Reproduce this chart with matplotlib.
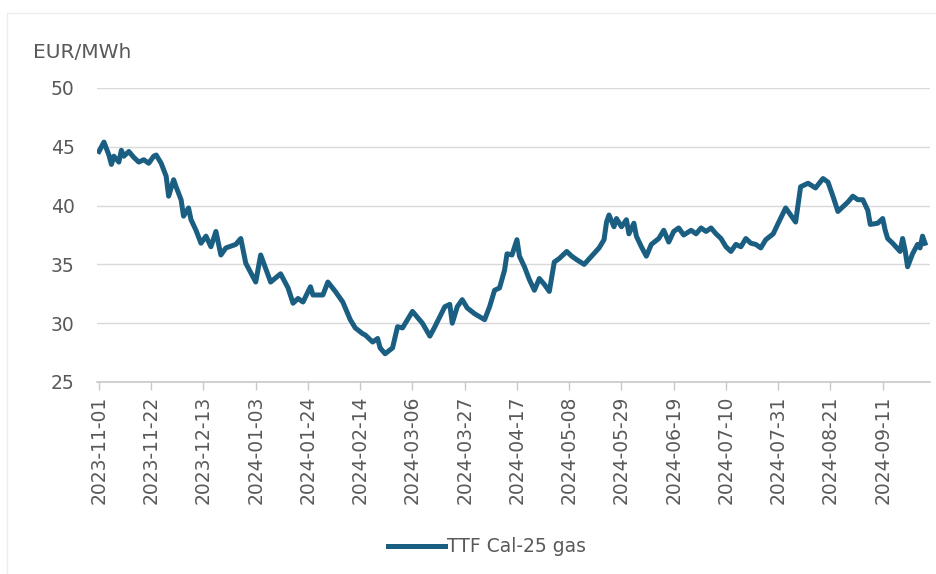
import numpy as np
import pandas as pd
import matplotlib
matplotlib.use("Agg")
import matplotlib.pyplot as plt
import matplotlib.dates as mdates
from matplotlib.patches import Rectangle

# Data: days since 2023-11-01 and price in EUR/MWh
start_date = "2023-11-01"
day_offsets = [
    0, 2, 4, 5, 6, 8, 9, 10, 12, 14, 16, 18, 20, 22, 23, 25, 27, 28, 30, 31,
    33, 34, 36, 37, 39, 41, 43, 45, 47, 49, 51, 55, 57, 59, 63, 65, 69, 73, 76, 78,
    80, 82, 85, 86, 90, 92, 95, 98, 101, 103, 106, 107, 110, 112, 113, 115, 118, 120, 122, 126,
    130, 133, 135, 139, 141, 142, 144, 146, 148, 151, 155, 157, 159, 161, 163, 164, 166, 168, 169, 171,
    173, 175, 177, 179, 181, 183, 185, 188, 190, 192, 195, 198, 201, 203, 204, 205, 207, 208, 210, 212,
    213, 215, 216, 218, 220, 222, 225, 227, 229, 231, 233, 235, 238, 240, 242, 244, 246, 248, 250, 252,
    254, 256, 258, 260, 262, 264, 266, 268, 271, 273, 276, 278, 280, 282, 285, 288, 291, 293, 295, 297,
    299, 301, 303, 305, 307, 309, 310, 313, 315, 316, 317, 319, 322, 323, 324, 325, 327, 329, 330, 331,
    332,
]
ttf_cal25 = [
    44.6, 45.4, 44.3, 43.5, 44.2, 43.7, 44.7, 44.2, 44.6, 44.1, 43.7, 43.9, 43.6, 44.2, 44.3, 43.6, 42.5, 40.8, 42.2, 41.6,
    40.5, 39.1, 39.8, 38.8, 37.9, 36.8, 37.4, 36.5, 37.8, 35.8, 36.4, 36.7, 37.2, 35.1, 33.5, 35.8, 33.5, 34.2, 33.0, 31.7,
    32.1, 31.8, 33.1, 32.4, 32.4, 33.5, 32.7, 31.8, 30.3, 29.6, 29.1, 29.0, 28.4, 28.7, 27.9, 27.4, 27.9, 29.7, 29.6, 31.0,
    30.0, 28.9, 29.7, 31.4, 31.6, 30.0, 31.4, 32.0, 31.3, 30.8, 30.3, 31.4, 32.8, 33.0, 34.5, 35.9, 35.8, 37.1, 35.7, 34.8,
    33.7, 32.8, 33.8, 33.3, 32.7, 35.2, 35.5, 36.1, 35.7, 35.4, 35.0, 35.7, 36.4, 37.1, 38.6, 39.2, 38.2, 38.9, 38.2, 38.8,
    37.6, 38.5, 37.4, 36.5, 35.7, 36.7, 37.2, 37.9, 36.9, 37.8, 38.1, 37.5, 37.9, 37.6, 38.1, 37.8, 38.1, 37.6, 37.2, 36.5,
    36.1, 36.7, 36.5, 37.2, 36.8, 36.7, 36.4, 37.1, 37.6, 38.5, 39.8, 39.2, 38.6, 41.6, 41.9, 41.5, 42.3, 42.0, 40.8, 39.5,
    39.9, 40.3, 40.8, 40.5, 40.5, 39.6, 38.4, 38.5, 38.9, 37.9, 37.2, 36.8, 36.1, 37.2, 36.2, 34.8, 35.9, 36.7, 36.4, 37.4,
    36.8,
]
series_name = "TTF Cal-25 gas"
unit_label = "EUR/MWh"
y_ticks = [25, 30, 35, 40, 45, 50]

dates = pd.to_datetime(start_date) + pd.to_timedelta(day_offsets, unit="D")
tick_dates = pd.date_range(start_date, "2024-09-30", freq="21D")

line_color = "#1a5e82"
text_color = "#595959"
fs = 13.5

fig = plt.figure(figsize=(9.37, 5.74), dpi=100)
ax = fig.add_axes([0.1035, 0.3345, 0.889, 0.5122])

# faint frame of the original screenshot
fig.patches.append(Rectangle((7 / 937, -0.1), 1.2, 1 - 13 / 574 + 0.1, transform=fig.transFigure,
                             fill=False, edgecolor="#ececec", linewidth=1.0))

ax.plot(dates, ttf_cal25, color=line_color, linewidth=3.6, solid_joinstyle="round",
        label=series_name)

ax.set_ylim(25, 50)
ax.set_yticks(y_ticks)
ax.set_xlim(pd.to_datetime(start_date) - pd.Timedelta(days=0.8), pd.to_datetime("2024-09-30"))
ax.set_xticks(tick_dates)
ax.xaxis.set_major_formatter(mdates.DateFormatter("%Y-%m-%d"))

ax.grid(axis="y", color="#d9d9d9", linewidth=1.0)
ax.set_axisbelow(True)
for side in ["top", "right", "left"]:
    ax.spines[side].set_visible(False)
ax.spines["bottom"].set_color("#c8c8c8")
ax.spines["bottom"].set_linewidth(1.2)

ax.tick_params(axis="y", length=0, pad=16, labelsize=fs, labelcolor=text_color)
ax.tick_params(axis="x", length=6, width=1.0, color="#c8c8c8", pad=4,
               labelsize=fs, labelcolor=text_color, labelrotation=90)

fig.text(33 / 937, 1 - 52 / 574, unit_label, fontsize=14.5, color=text_color, va="center", ha="left")

fig.legend(loc="center", bbox_to_anchor=(487 / 937, 1 - 547 / 574), frameon=False,
           fontsize=fs, labelcolor=text_color, handlelength=3.0, handletextpad=0.1)

fig.savefig("out.png", dpi=100, facecolor="white")
